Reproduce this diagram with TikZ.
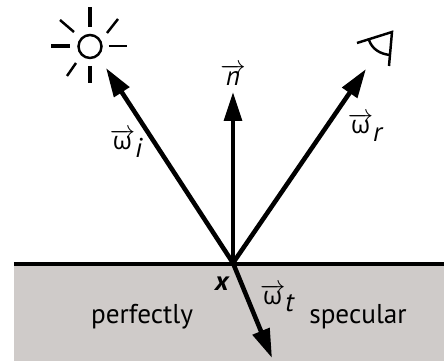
\documentclass[tikz,border=0pt]{standalone}
\usepackage{fontspec}
\setmainfont{PT Sans}
\newfontfamily\greekfont{Open Sans}
\usetikzlibrary{arrows.meta}
\definecolor{surfgray}{HTML}{CFCBC9}
\newcommand{\dirvec}[2]{$\overrightarrow{\hbox{\greekfont\fontsize{14}{16}\selectfont #1}}$\raisebox{-0.55ex}{\itshape #2}}

\begin{document}
\begin{tikzpicture}[
    x=0.02cm, y=0.02cm,
    font=\fontsize{15.5}{18}\selectfont,
    ray/.style={-{Stealth[length=16.5pt, width=10pt, inset=0pt]}, line width=2.6pt},
    glyph/.style={line width=1.8pt},
    thinglyph/.style={line width=1.4pt},
    lbl/.style={inner sep=0pt},
]
\useasboundingbox (0,0) rectangle (444,361);

% Surface
\fill[surfgray] (14,0) rectangle (444,97);
\coordinate (left end) at (14,97);
\coordinate (right end) at (444,97);
\draw[line width=1.9pt] (left end) -- (right end);

% Directions
\coordinate (hit) at (233,98);
\coordinate (tip i) at (106,293);
\coordinate (tip n) at (233,269);
\coordinate (tip r) at (366,292);
\coordinate (tip t) at (272,3);
\draw[ray] (hit) -- (tip i);
\draw[ray] (hit) -- (tip n);
\draw[ray] (hit) -- (tip r);
\draw[ray] (hit) -- (tip t);

% Light
\node[draw, circle, thinglyph, minimum size=0.46cm, inner sep=0pt] (sun) at (90,314.5) {};
\draw[glyph] (90,334) -- (90,354);
\draw[glyph] (90,295) -- (90,278);
\draw[glyph] (70,315) -- (51,315);
\draw[thinglyph] (109,315) -- (127,315);
\draw[thinglyph] (74,329) -- (60,341);
\draw[thinglyph] (107,328) -- (118,342);
\draw[thinglyph] (76,298) -- (67,285);

% Eye
\coordinate (eye a) at (357,318);
\coordinate (eye b) at (392,329);
\coordinate (eye c) at (389,295);
\draw[thinglyph] (eye a) -- (eye b) -- (eye c);
\draw[thinglyph] (369,321) .. controls (372,312) and (380,307) .. (390,306);

% Labels
\node[lbl] (label n) at (233,286) {$\overrightarrow{\hbox{\itshape n}}$};
\node[lbl] (label i) at (126,218) {\dirvec{ω}{i}};
\node[lbl] (label r) at (365,234) {\dirvec{ω}{r}};
\node[lbl] (label t) at (277,63) {\dirvec{ω}{t}};
\node[lbl] (label x) at (222,77) {\bfseries\itshape x};
\node[lbl] (perfectly) at (142,44) {perfectly};
\node[lbl] (specular) at (358,44) {specular};
\end{tikzpicture}
\end{document}
